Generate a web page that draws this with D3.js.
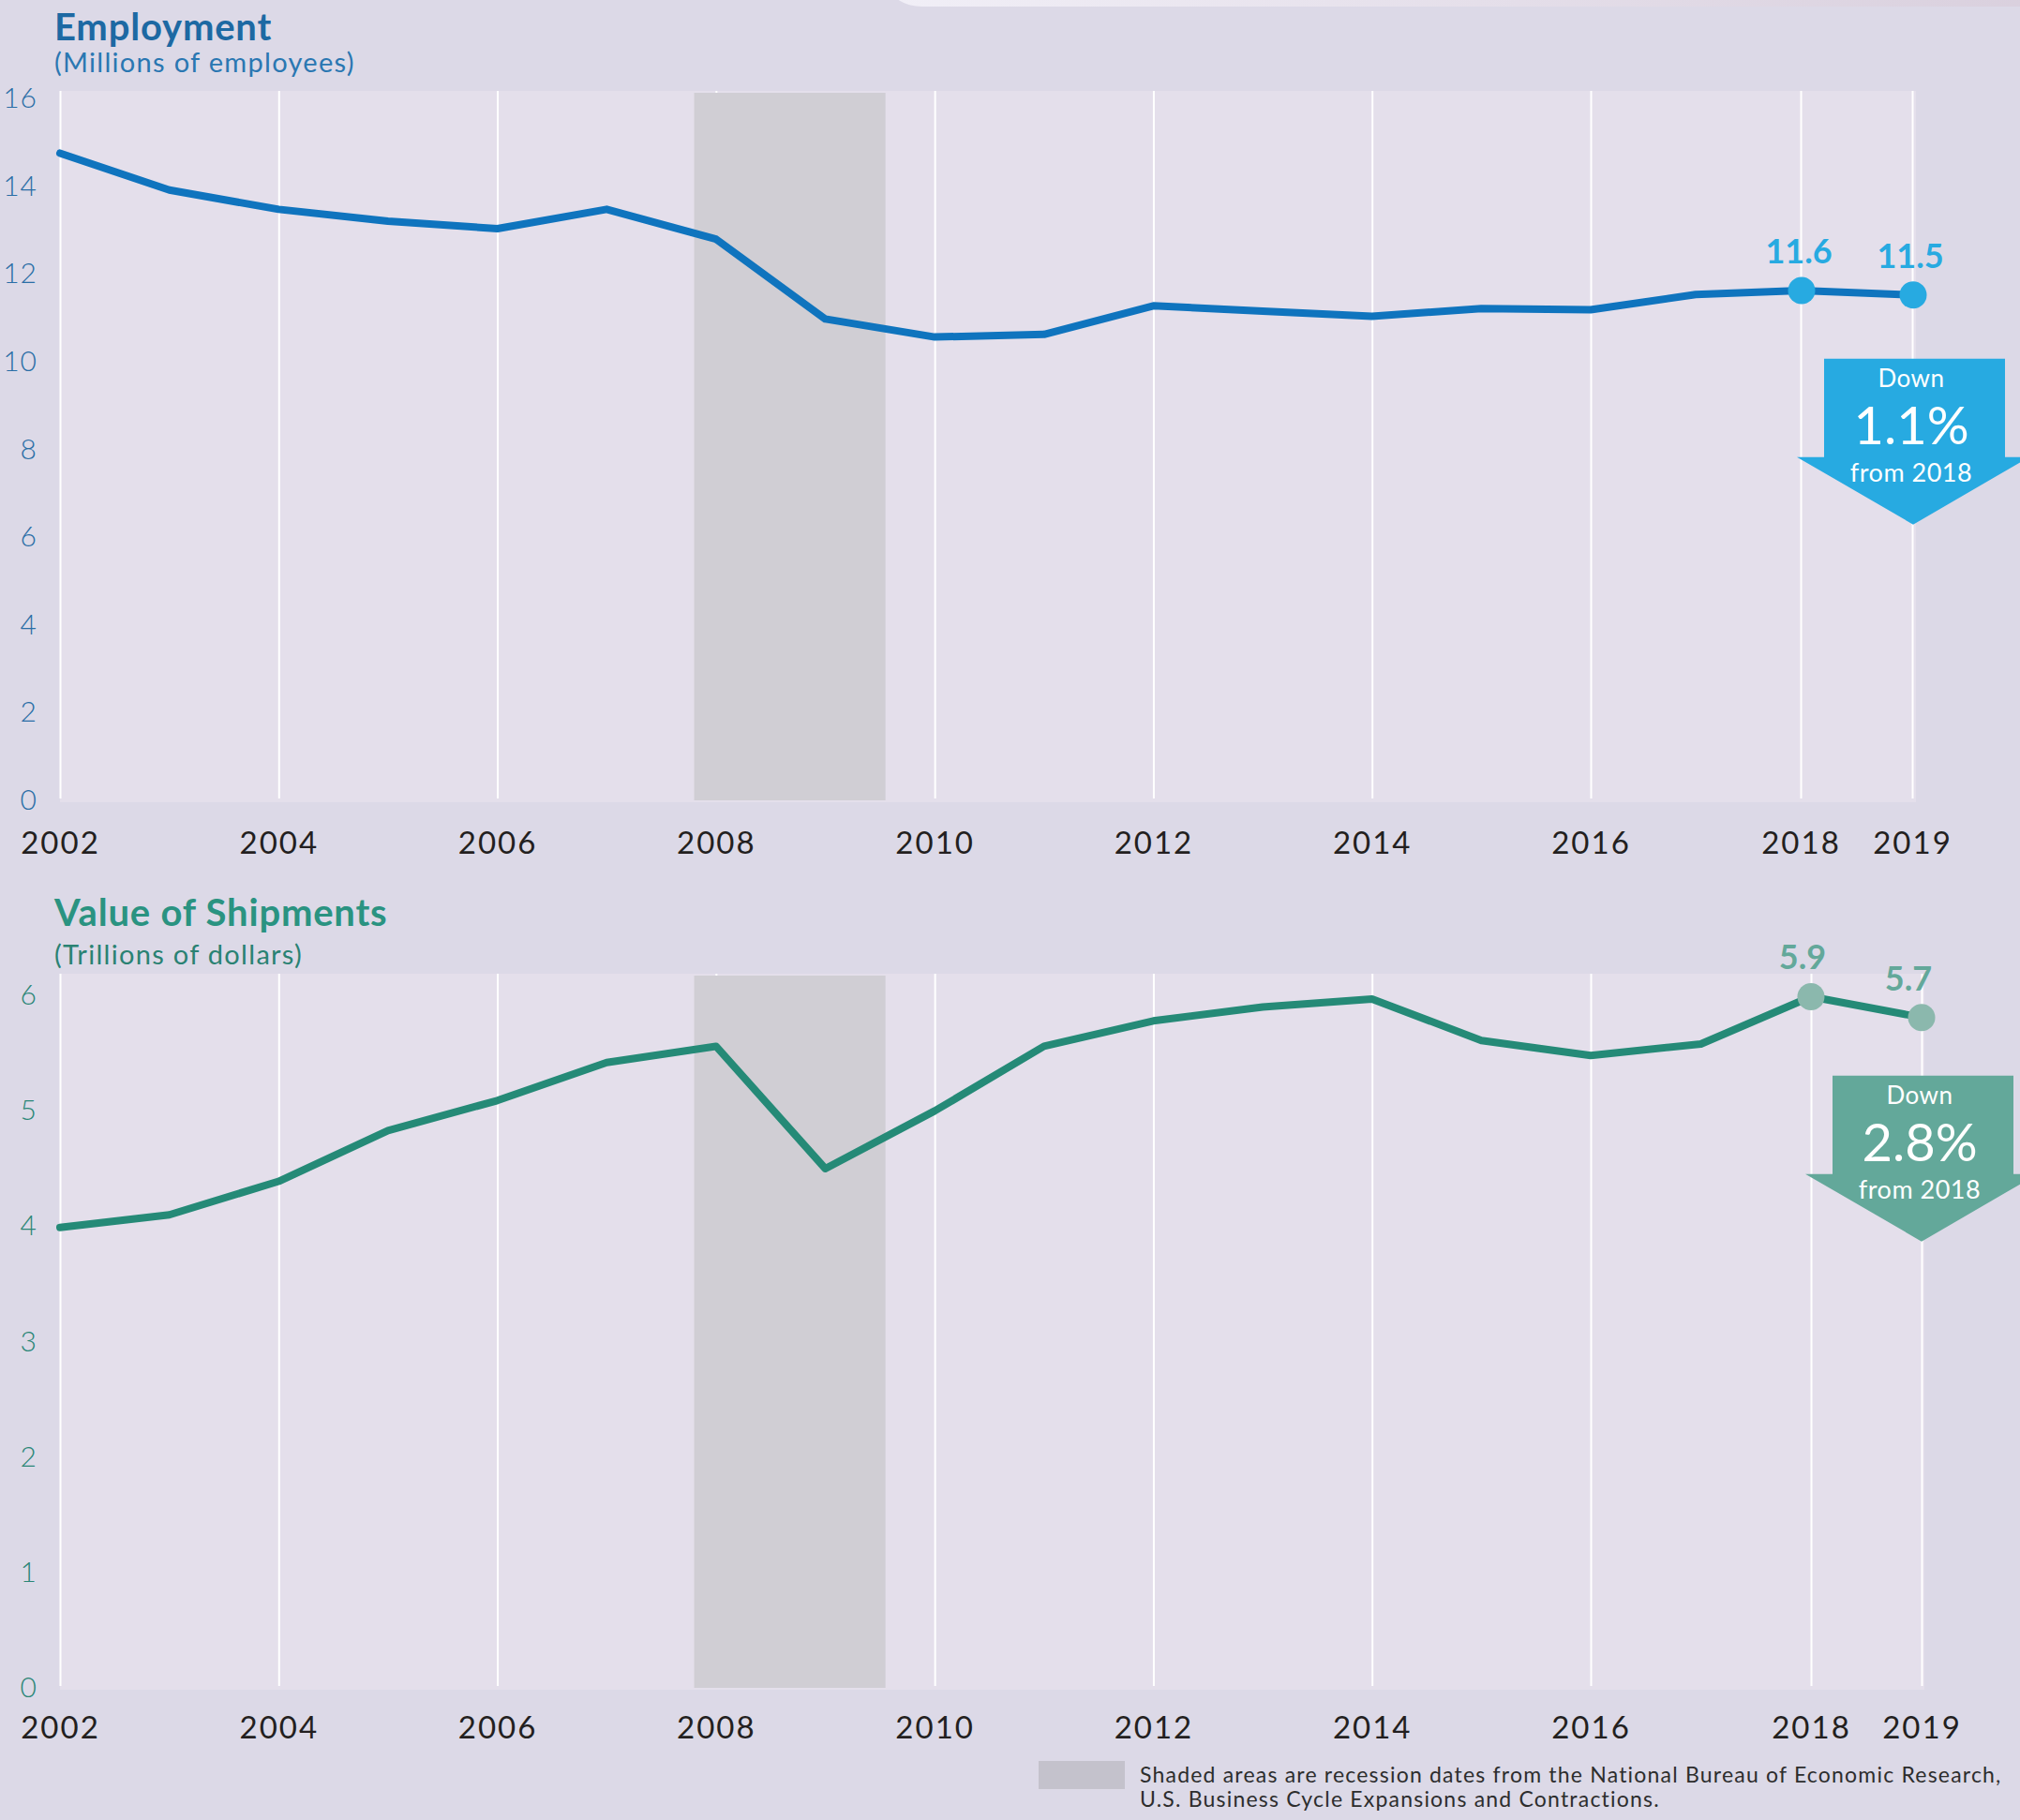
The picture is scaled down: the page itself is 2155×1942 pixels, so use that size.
<!DOCTYPE html>
<html>
<head>
<meta charset="utf-8">
<script src="https://cdn.jsdelivr.net/npm/d3@7"></script>
<style>
  body { margin: 0; background: #dcd9e7; }
  svg { display: block; font-family: Lato, "Open Sans", sans-serif; }
</style>
</head>
<body>
<div id="chart"></div>
<script>
// values
const years = [2002, 2003, 2004, 2005, 2006, 2007, 2008, 2009, 2010, 2011, 2012, 2013, 2014, 2015, 2016, 2017, 2018, 2019];
const employment = [14.73, 13.89, 13.45, 13.18, 13.01, 13.45, 12.77, 10.95, 10.54, 10.60, 11.25, 11.13, 11.01, 11.19, 11.16, 11.51, 11.6, 11.5];
const shipments = [3.98, 4.09, 4.38, 4.82, 5.08, 5.41, 5.55, 4.49, 4.99, 5.55, 5.77, 5.89, 5.96, 5.60, 5.47, 5.57, 5.98, 5.80];
const yearTicks = [2002, 2004, 2006, 2008, 2010, 2012, 2014, 2016, 2018, 2019];
const employmentTicks = [0, 2, 4, 6, 8, 10, 12, 14, 16];
const shipmentTicks = [0, 1, 2, 3, 4, 5, 6];
const recession = [2007.8, 2009.55];
const highlightYears = [2018, 2019];
const employmentLabels = ["11.6", "11.5"];
const shipmentLabels = ["5.9", "5.7"];
const employmentChange = ["Down", "1.1%", "from 2018"];
const shipmentChange = ["Down", "2.8%", "from 2018"];
const footnote = ["Shaded areas are recession dates from the National Bureau of Economic Research,",
                  "U.S. Business Cycle Expansions and Contractions."];

const width = 2155, height = 1942;

const svg = d3.select("#chart").append("svg")
    .attr("width", width)
    .attr("height", height);

svg.append("rect").attr("width", width).attr("height", height).attr("fill", "#dcd9e7");

// faint card edge at the top right
const grad = svg.append("defs").append("linearGradient").attr("id", "cardGrad");
grad.append("stop").attr("offset", "0%").attr("stop-color", "#f1eff7");
grad.append("stop").attr("offset", "100%").attr("stop-color", "#d8cedc");
svg.append("rect")
    .attr("x", 948).attr("y", -40)
    .attr("width", 1300).attr("height", 47)
    .attr("rx", 36)
    .attr("fill", "url(#cardGrad)");

function drawPanel(p) {
    const x = d3.scaleLinear()
        .domain([2002, 2016, 2018, 2019])
        .range(p.xRange);
    const y = d3.scaleLinear()
        .domain([0, p.yMax])
        .range([p.bottom, p.top]);

    const g = svg.append("g");

    // plot background
    g.append("rect")
        .attr("x", x(2002))
        .attr("y", p.bgTop)
        .attr("width", p.bgRight - x(2002))
        .attr("height", p.bottom + 3 - p.bgTop)
        .attr("fill", "#e4dfeb");

    // vertical gridlines
    g.append("g")
        .attr("transform", `translate(0, ${p.bottom - 1})`)
        .call(d3.axisBottom(x).tickValues(yearTicks).tickSize(-(p.bottom - 1 - p.bgTop)).tickFormat(""))
        .call(a => a.select(".domain").remove())
        .call(a => a.selectAll("line").attr("stroke", "#ffffff").attr("stroke-width", 2));

    // recession shading
    g.append("rect")
        .attr("x", x(recession[0]))
        .attr("y", p.bgTop + 2)
        .attr("width", x(recession[1]) - x(recession[0]))
        .attr("height", p.bottom - p.bgTop - 1)
        .attr("fill", "#d0ced4");

    // y axis labels
    g.append("g")
        .attr("transform", "translate(40, 0)")
        .call(d3.axisLeft(y).tickValues(p.yTicks).tickSize(0).tickPadding(0).tickFormat(d3.format("d")))
        .call(a => a.select(".domain").remove())
        .call(a => a.selectAll("text")
            .attr("fill", p.tickColor)
            .attr("dy", "0.35em")
            .style("font-size", "30px")
            .style("font-weight", 300)
            .style("letter-spacing", "1px")
            .style("font-family", "Lato, sans-serif"));

    // x axis labels
    g.append("g")
        .attr("transform", `translate(0, ${p.bottom})`)
        .call(d3.axisBottom(x).tickValues(yearTicks).tickSize(0).tickPadding(0).tickFormat(d3.format("d")))
        .call(a => a.select(".domain").remove())
        .call(a => a.selectAll("text")
            .attr("fill", "#231f20")
            .attr("dy", null)
            .attr("y", p.xLabelOffset)
            .style("font-size", "33px")
            .style("font-weight", 400)
            .style("letter-spacing", "2px")
            .style("font-family", "Lato, sans-serif"));

    // titles
    g.append("text")
        .attr("x", 58).attr("y", p.titleY)
        .attr("fill", p.titleColor)
        .style("font-size", "40px").style("font-weight", 700)
        .style("letter-spacing", "0.8px")
        .text(p.title);
    g.append("text")
        .attr("x", 58).attr("y", p.titleY + p.subGap)
        .attr("fill", p.subColor)
        .style("font-size", "29px").style("font-weight", 400)
        .style("letter-spacing", "1.3px")
        .text(p.subtitle);

    // the line
    const line = d3.line()
        .x((d, i) => x(years[i]))
        .y(d => y(d));
    g.append("path")
        .datum(p.values)
        .attr("fill", "none")
        .attr("stroke", p.lineColor)
        .attr("stroke-width", 8)
        .attr("stroke-linejoin", "round")
        .attr("stroke-linecap", "round")
        .attr("d", line);

    // highlighted points
    const hi = highlightYears.map((yr, i) => ({ yr, v: p.values[years.indexOf(yr)], label: p.labels[i] }));
    g.selectAll(".dot").data(hi).join("circle")
        .attr("cx", d => x(d.yr) + p.dotShift)
        .attr("cy", d => y(d.v))
        .attr("r", 14.5)
        .attr("fill", p.dotColor);
    g.selectAll(".vlabel").data(hi).join("text")
        .attr("x", (d, i) => x(d.yr) + p.labelShift[i])
        .attr("y", d => y(d.v) - 29)
        .attr("text-anchor", "middle")
        .attr("fill", p.labelColor)
        .style("font-size", "36px").style("font-weight", 700)
        .text(d => d.label);

    // change callout arrow
    const tx = x(2019) + p.dotShift;
    const top = y(p.values[p.values.length - 1]) + p.calloutGap;
    const pts = [[tx - 95, top], [tx + 98, top], [tx + 98, top + 105], [tx + 124, top + 105],
                 [tx, top + 177], [tx - 124, top + 105], [tx - 95, top + 105]];
    g.append("polygon")
        .attr("points", pts.map(d => d.join(",")).join(" "))
        .attr("fill", p.calloutColor);
    const cx = tx - 2;
    g.append("text").attr("x", cx).attr("y", top + 30)
        .attr("text-anchor", "middle").attr("fill", "#fff")
        .style("font-size", "26px").style("font-weight", 400)
        .style("letter-spacing", "0.5px")
        .text(p.change[0]);
    g.append("text").attr("x", cx).attr("y", top + 91)
        .attr("text-anchor", "middle").attr("fill", "#fff")
        .style("font-size", "56px").style("font-weight", 400)
        .text(p.change[1]);
    g.append("text").attr("x", cx).attr("y", top + 131)
        .attr("text-anchor", "middle").attr("fill", "#fff")
        .style("font-size", "27px").style("font-weight", 400)
        .style("letter-spacing", "0.5px")
        .text(p.change[2]);
}

drawPanel({
    title: "Employment",
    subtitle: "(Millions of employees)",
    titleY: 43, subGap: 34,
    titleColor: "#1d69a3", subColor: "#2a77b2", tickColor: "#2a6ea6",
    values: employment, yMax: 16, yTicks: employmentTicks,
    top: 104, bottom: 853, bgTop: 97, bgRight: 2044,
    xRange: [64, 1697, 1921, 2040],
    xLabelOffset: 58,
    lineColor: "#0f74be", dotColor: "#27aae1", labelColor: "#27aae1",
    dotShift: 1, labelShift: [-2, -2],
    labels: employmentLabels, change: employmentChange,
    calloutColor: "#27aae1", calloutGap: 68
});

drawPanel({
    title: "Value of Shipments",
    subtitle: "(Trillions of dollars)",
    titleY: 988, subGap: 41,
    titleColor: "#2a9381", subColor: "#2a8273", tickColor: "#2a8676",
    values: shipments, yMax: 6, yTicks: shipmentTicks,
    top: 1061, bottom: 1800, bgTop: 1039, bgRight: 2053,
    xRange: [64, 1697, 1932, 2050],
    xLabelOffset: 55,
    lineColor: "#258a77", dotColor: "#8bb8ad", labelColor: "#63a89a",
    dotShift: 0, labelShift: [-9, -14],
    labels: shipmentLabels, change: shipmentChange,
    calloutColor: "#63a89a", calloutGap: 62
});

// footnote
svg.append("rect")
    .attr("x", 1108).attr("y", 1879)
    .attr("width", 92).attr("height", 30)
    .attr("fill", "#c4c2cc");
svg.append("g").selectAll("text").data(footnote).join("text")
    .attr("x", 1216)
    .attr("y", (d, i) => 1902 + i * 26)
    .attr("fill", "#2d2d2d")
    .style("font-size", "23px")
    .style("letter-spacing", "1.2px")
    .text(d => d);
</script>
</body>
</html>
